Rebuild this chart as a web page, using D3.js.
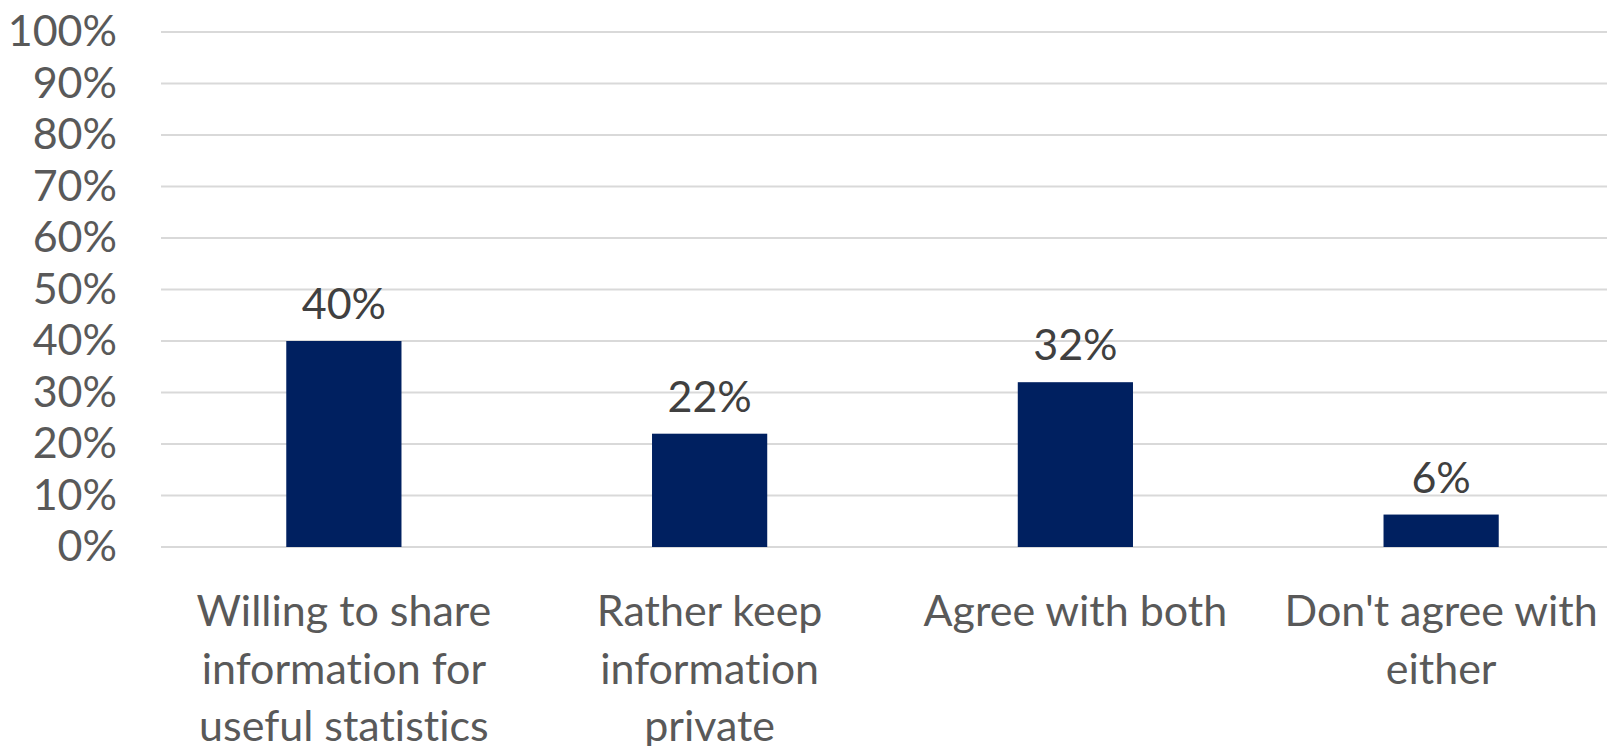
<!DOCTYPE html>
<html>
<head>
<meta charset="utf-8">
<script src="https://cdn.jsdelivr.net/npm/d3@7"></script>
<style>
  html, body { margin: 0; padding: 0; background: #fff; }
  svg { display: block; font-family: Lato, "Open Sans", sans-serif; font-variant-ligatures: none; }
</style>
</head>
<body>
<div id="chart"></div>
<script>
var categories = [
  "Willing to share\ninformation for\nuseful statistics",
  "Rather keep\ninformation\nprivate",
  "Agree with both",
  "Don't agree with\neither"
];
var values = [40, 22, 32, 6.3];
var valueLabels = ["40%", "22%", "32%", "6%"];
var yTicks = [0, 10, 20, 30, 40, 50, 60, 70, 80, 90, 100];

var width = 1607, height = 746;
var plotLeft = 161, plotRight = 1624, plotTop = 32, plotBottom = 547;

var svg = d3.select("#chart").append("svg")
  .attr("width", width)
  .attr("height", height);

var x = d3.scaleBand()
  .domain(categories)
  .range([plotLeft, plotRight])
  .paddingInner(0.685)
  .paddingOuter(0.3425);

var y = d3.scaleLinear()
  .domain([0, 100])
  .range([plotBottom, plotTop]);

// gridlines
svg.append("g")
  .selectAll("line")
  .data(yTicks)
  .enter().append("line")
  .attr("x1", plotLeft)
  .attr("x2", width)
  .attr("y1", function(d){ return y(d); })
  .attr("y2", function(d){ return y(d); })
  .attr("stroke", "#d9d9d9")
  .attr("stroke-width", 2);

// y axis labels
var yAxis = d3.axisLeft(y)
  .tickValues(yTicks)
  .tickSize(0)
  .tickPadding(0)
  .tickFormat(function(d){ return d + "%"; });

var ya = svg.append("g")
  .attr("transform", "translate(117,0)")
  .call(yAxis);
ya.select(".domain").remove();
ya.selectAll("text")
  .attr("fill", "#595959")
  .style("font-size", "43px")
  .style("font-family", "Lato, sans-serif");

// bars
svg.append("g")
  .selectAll("rect")
  .data(values)
  .enter().append("rect")
  .attr("x", function(d, i){ return x(categories[i]); })
  .attr("width", x.bandwidth())
  .attr("y", function(d){ return y(d); })
  .attr("height", function(d){ return y(0) - y(d); })
  .attr("fill", "#002060");

// value labels
svg.append("g")
  .selectAll("text")
  .data(values)
  .enter().append("text")
  .attr("x", function(d, i){ return x(categories[i]) + x.bandwidth() / 2; })
  .attr("y", function(d){ return y(d) - 22; })
  .attr("text-anchor", "middle")
  .attr("fill", "#404040")
  .style("font-size", "43px")
  .text(function(d, i){ return valueLabels[i]; });

// category labels
var cat = svg.append("g")
  .selectAll("text")
  .data(categories)
  .enter().append("text")
  .attr("text-anchor", "middle")
  .attr("fill", "#595959")
  .style("font-size", "43px")
  .attr("transform", function(d){ return "translate(" + (x(d) + x.bandwidth() / 2) + ",626)"; });

cat.selectAll("tspan")
  .data(function(d){ return d.split("\n"); })
  .enter().append("tspan")
  .attr("x", 0)
  .attr("y", function(d, i){ return i * 57.5; })
  .text(function(d){ return d; });
</script>
</body>
</html>
